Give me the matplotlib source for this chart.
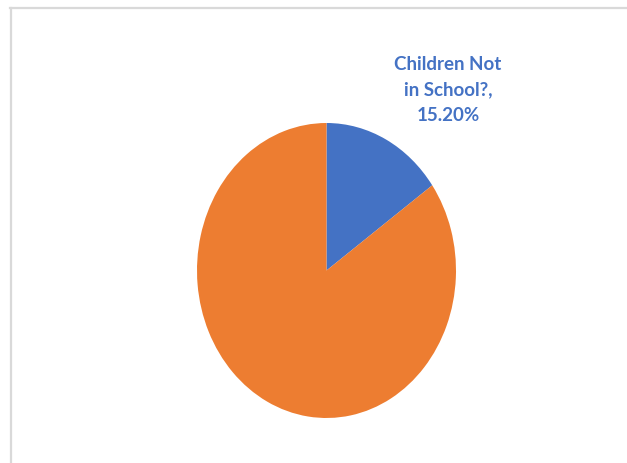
import matplotlib
matplotlib.use("Agg")
import matplotlib.pyplot as plt
from matplotlib.lines import Line2D

labels = ["Children Not in School?", "Children in School"]
values = [15.2, 84.8]
colors = ["#4472C4", "#ED7D31"]

W, H = 627, 464
fig = plt.figure(figsize=(W / 100, H / 100), dpi=100)

# frame lines (top and left only)
fig.add_artist(Line2D([10 / W, 1], [1 - 9 / H, 1 - 9 / H], color="#d9d9d9", lw=1.6))
fig.add_artist(Line2D([11 / W, 11 / W], [0, 1 - 9 / H], color="#d9d9d9", lw=1.6))

ax = fig.add_axes([197 / W, (H - 419) / H, 259 / W, 295 / H])
ax.pie(values, colors=colors, startangle=90, counterclock=False, radius=1)
ax.set_aspect("auto")
ax.set_xlim(-1, 1)
ax.set_ylim(-1, 1)

fig.text(448 / W, 1 - 90 / H,
         "%s,\n%.2f%%" % ("Children Not\nin School?", values[0]),
         ha="center", va="center", color=colors[0], fontsize=13.5,
         fontweight="bold", family="Lato", linespacing=1.6)

fig.savefig("out.png", dpi=100, facecolor="white")
